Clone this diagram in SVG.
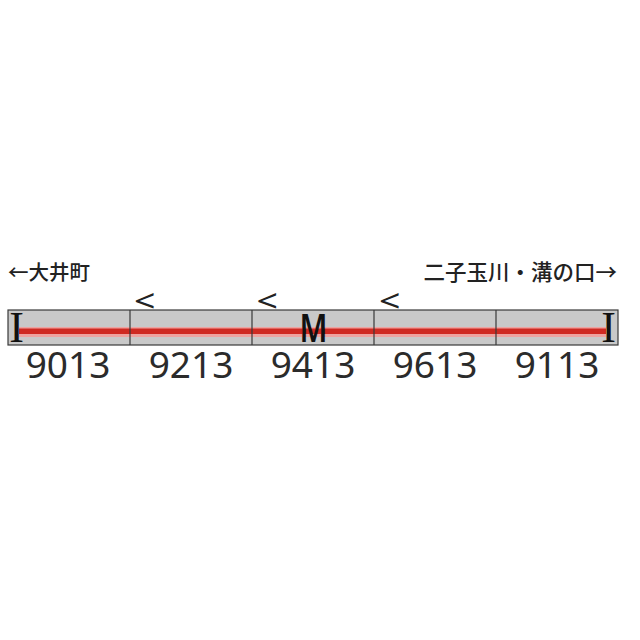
<svg xmlns="http://www.w3.org/2000/svg" width="640" height="640" viewBox="0 0 640 640">
<style>
.lbl{font-family:"Noto Sans","Noto Sans CJK JP",sans-serif;font-size:37px;fill:#2b2b2b;text-anchor:middle}
.dir{font-family:"Noto Sans CJK JP","Noto Sans",sans-serif;font-weight:500;fill:#222}
.mk{font-family:"Noto Sans","Noto Sans CJK JP",sans-serif;font-size:30px;fill:#222}
.end{font-family:"Liberation Serif",serif;font-size:44px;fill:#111;text-anchor:middle}
.div{stroke:#3a3a3a;stroke-width:1.2}
</style>
<rect width="640" height="640" fill="#ffffff"/>
<g id="directions">
<text class="dir" x="8" y="280" font-size="20.5">←大井町</text>
<text class="dir" x="617" y="280" font-size="21.5" text-anchor="end">二子玉川・溝の口→</text>
</g>
<g id="train">
<rect x="8" y="310" width="610" height="35" fill="#c9c9c9" stroke="#3a3a3a" stroke-width="1.2"/>
<rect x="19" y="327" width="587" height="10" fill="#eea3a0"/>
<rect x="19" y="328.5" width="587" height="5.5" fill="#cf2a22"/>
</g>
<g id="connectors">
<line class="div" x1="130" y1="310" x2="130" y2="345"/>
<line class="div" x1="252" y1="310" x2="252" y2="345"/>
<line class="div" x1="374" y1="310" x2="374" y2="345"/>
<line class="div" x1="496" y1="310" x2="496" y2="345"/>
</g>
<g id="car1">
<text class="end" x="16.5" y="342">I</text>
<text class="lbl" x="68" y="378">9013</text>
</g>
<g id="car2">
<text class="mk" transform="translate(134,312) scale(1.25,1)">&lt;</text>
<text class="lbl" x="191" y="378">9213</text>
</g>
<g id="car3">
<text class="mk" transform="translate(256.5,312) scale(1.25,1)">&lt;</text>
<text x="313.5" y="342" font-family="Noto Sans, sans-serif" font-weight="600" font-size="40" fill="#111" text-anchor="middle" textLength="28" lengthAdjust="spacingAndGlyphs">M</text>
<text class="lbl" x="313" y="378">9413</text>
</g>
<g id="car4">
<text class="mk" transform="translate(379,312) scale(1.25,1)">&lt;</text>
<text class="lbl" x="435" y="378">9613</text>
</g>
<g id="car5">
<text class="end" x="608.5" y="342">I</text>
<text class="lbl" x="557" y="378">9113</text>
</g>
</svg>
